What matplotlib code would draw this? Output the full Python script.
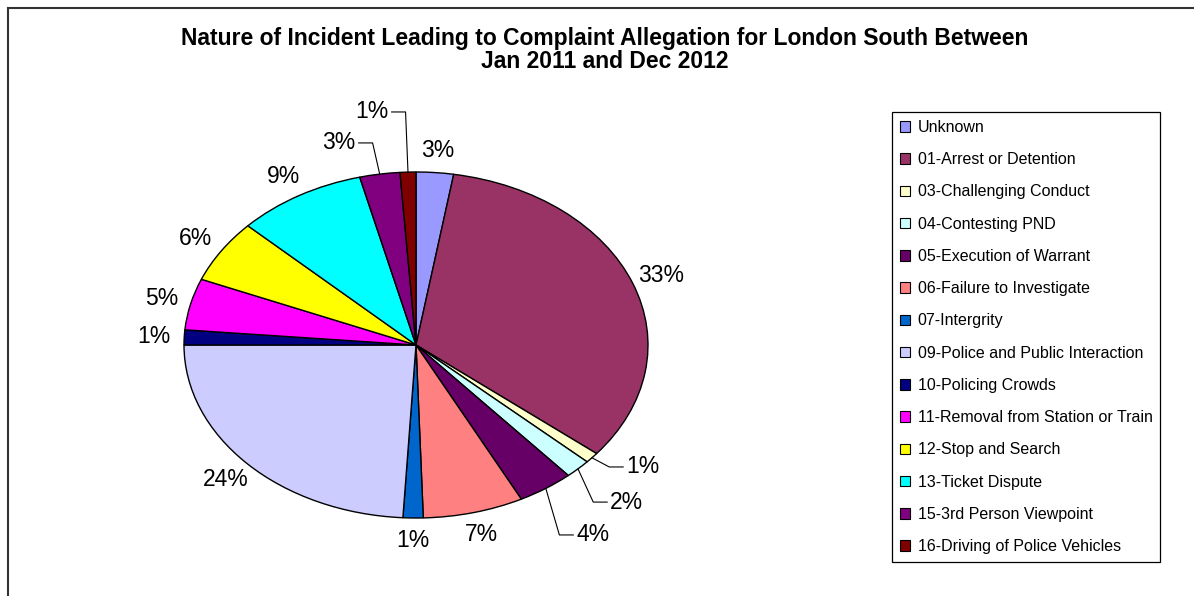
import matplotlib
matplotlib.use("Agg")
import matplotlib.pyplot as plt
from matplotlib.patches import Patch
from matplotlib.lines import Line2D
import numpy as np

plt.rcParams['font.family'] = ['Liberation Sans', 'DejaVu Sans']

categories = ["Unknown", "01-Arrest or Detention", "03-Challenging Conduct",
              "04-Contesting PND", "05-Execution of Warrant", "06-Failure to Investigate",
              "07-Intergrity", "09-Police and Public Interaction", "10-Policing Crowds",
              "11-Removal from Station or Train", "12-Stop and Search", "13-Ticket Dispute",
              "15-3rd Person Viewpoint", "16-Driving of Police Vehicles"]
values = [2.6, 33.2, 1.0, 1.8, 3.9, 7.0, 1.4, 24.1, 1.4, 4.8, 5.9, 9.0, 2.8, 1.1]
colors = ["#9999FF", "#993366", "#FFFFCC", "#CCFFFF", "#660066", "#FF8080", "#0066CC",
          "#CCCCFF", "#000080", "#FF00FF", "#FFFF00", "#00FFFF", "#800080", "#800000"]
title = "Nature of Incident Leading to Complaint Allegation for London South Between\nJan 2011 and Dec 2012"

# layout: labels with leader lines (index -> label centre in axes data units)
leader_pos = {2: (0.978, -0.705), 3: (0.909, -0.908), 4: (0.763, -1.098),
              12: (-0.332, 1.168), 13: (-0.19, 1.347)}

W, H = 1194, 596
fig = plt.figure(figsize=(W / 100, H / 100), dpi=100)
# pie region in pixels: x 184..648, y 172..518
ax = fig.add_axes([184 / W, (H - 518) / H, 464 / W, 346 / H])
ax.pie(values, colors=colors, startangle=90, counterclock=False, radius=1,
       wedgeprops=dict(edgecolor="black", linewidth=1))
ax.set_aspect('auto')
ax.set_xlim(-1, 1)
ax.set_ylim(-1, 1)
ax.axis('off')

total = sum(values)
cum = 0.0
fs = 16.5
for i, v in enumerate(values):
    mid = (cum + v / 2) / total
    cum += v
    ang = np.deg2rad(90 - 360 * mid)
    lab = f"{round(v / total * 100)}%"
    if i in leader_pos:
        lx, ly = leader_pos[i]
        ex, ey = np.cos(ang), np.sin(ang)
        sgn = 1 if lx > 0 else -1
        elbow = lx - sgn * 0.145
        end = lx - sgn * 0.085
        ax.add_line(Line2D([ex, elbow, end], [ey, ly, ly], color="black", lw=0.8, clip_on=False))
        ax.text(lx, ly, lab, ha='center', va='center', fontsize=fs, clip_on=False)
    else:
        r = 1.13
        ax.text(r * np.cos(ang), r * np.sin(ang), lab, ha='center', va='center',
                fontsize=fs, clip_on=False)

fig.text(605 / W, 1 - 50 / H, title, ha='center', va='center', fontsize=16.5,
         fontweight='bold', linespacing=1.05)

handles = [Patch(facecolor=c, edgecolor='black', linewidth=0.8) for c in colors]
leg = fig.legend(handles, categories, loc='upper left',
                 bbox_to_anchor=(892 / W, 1 - 112 / H), fontsize=11.5,
                 frameon=True, fancybox=False, edgecolor='black', framealpha=1,
                 handlelength=0.65, handleheight=0.65, handletextpad=0.45,
                 labelspacing=1.08, borderpad=0.5, borderaxespad=0)
leg.get_frame().set_linewidth(0.9)

# outer chart border: top and left lines
fig.add_artist(Line2D([8 / W, 8 / W], [0, 1 - 8 / H], color="#333333", lw=1.5))
fig.add_artist(Line2D([8 / W, 1], [1 - 8 / H, 1 - 8 / H], color="#333333", lw=1.5))

fig.savefig("out.png", dpi=100)
